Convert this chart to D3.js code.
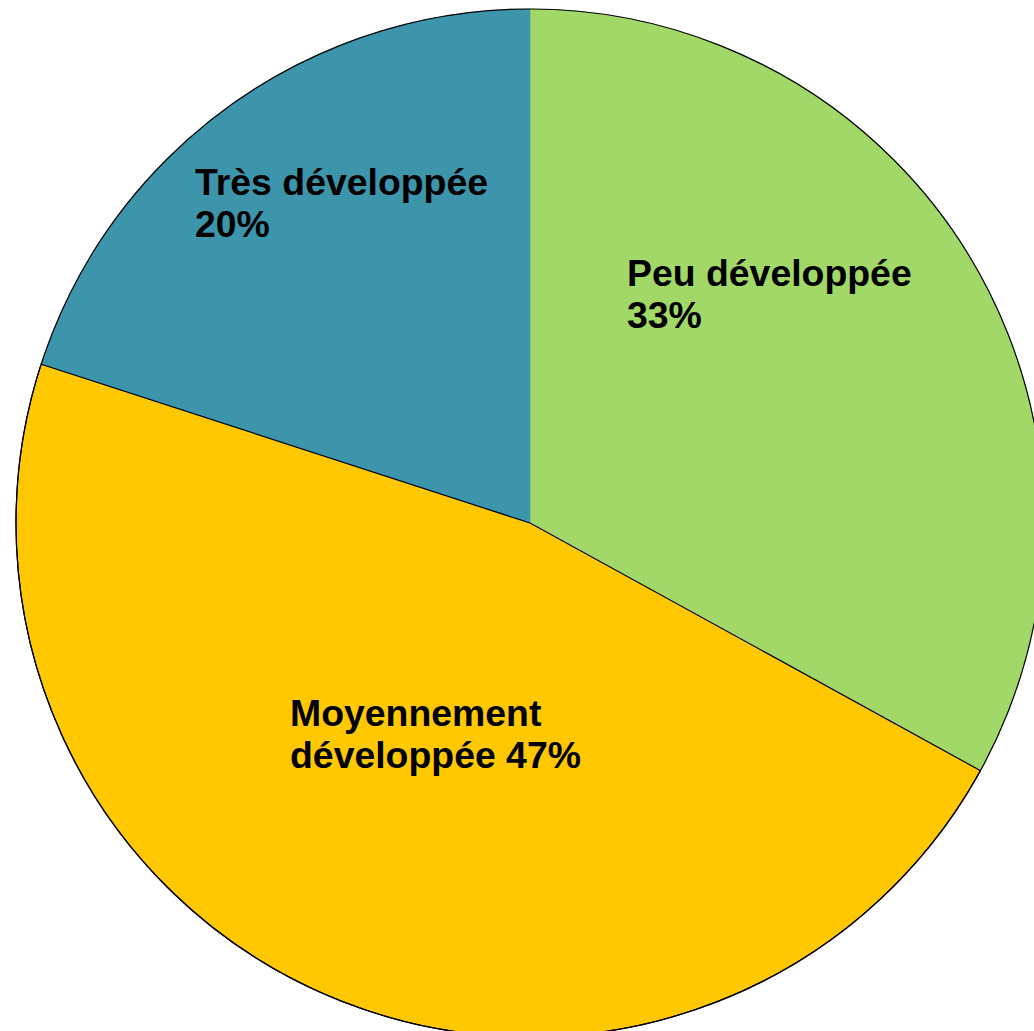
<!DOCTYPE html>
<html><head><meta charset="utf-8">
<script src="https://cdn.jsdelivr.net/npm/d3@7"></script>
<style>html,body{margin:0;padding:0;background:#fff;overflow:hidden}</style>
</head><body>
<svg id="c" width="1034" height="1031"></svg>
<script>
const categories = ["Peu développée", "Moyennement développée", "Très développée"];
const values = [33, 47, 20];
const labelLines = [["Peu développée", "33%"], ["Moyennement", "développée 47%"], ["Très développée", "20%"]];
const colors = ["#A1D867", "#FFC800", "#3D95AB"];

const svg = d3.select("#c");
const cx = 530, cy = 523, r = 514;
const g = svg.append("g").attr("transform", `translate(${cx},${cy})`);
const pie = d3.pie().sort(null).value(d => d)(values);
const arc = d3.arc().innerRadius(0).outerRadius(r);
g.selectAll("path.slice").data(pie).join("path")
  .attr("class", "slice")
  .attr("d", arc)
  .attr("fill", (d, i) => colors[i])
  .attr("stroke", (d, i) => colors[i])
  .attr("stroke-width", 0.5);
// outline: yellow slice edges and outer circle
g.append("path").attr("d", arc(pie[1])).attr("fill", "none").attr("stroke", "#000").attr("stroke-width", 1.2);
g.append("circle").attr("r", r).attr("fill", "none").attr("stroke", "#000").attr("stroke-width", 1.2);

const labelPos = [[627, 286], [290, 726], [195, 195]];
const lh = 42;
labelLines.forEach((lines, i) => {
  const t = svg.append("text")
    .attr("x", labelPos[i][0]).attr("y", labelPos[i][1])
    .attr("font-family", "Liberation Sans, Arial, sans-serif")
    .attr("font-weight", "bold").attr("font-size", 37.4).attr("fill", "#000");
  lines.forEach((l, j) => t.append("tspan").attr("x", labelPos[i][0]).attr("dy", j === 0 ? 0 : lh).text(l));
});
</script>
</body></html>
